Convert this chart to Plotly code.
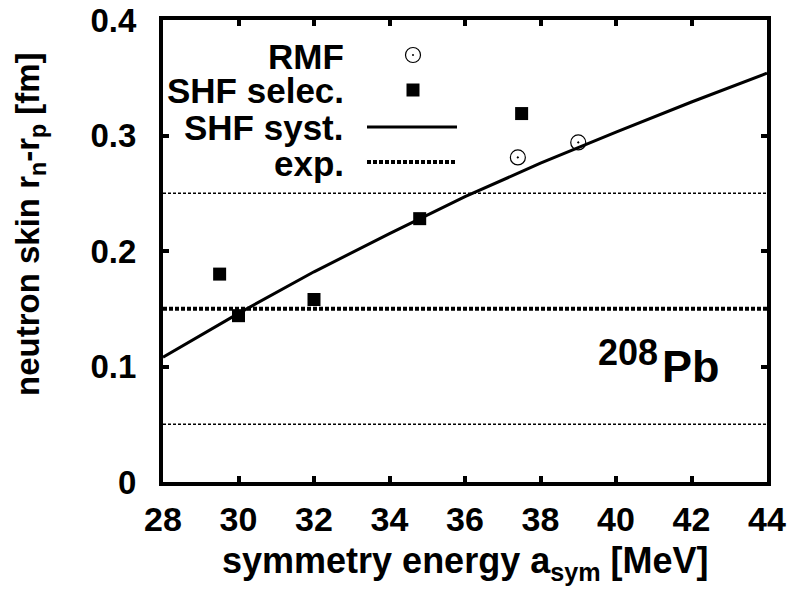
import plotly.graph_objects as go

# ---- data ----
rmf_x = [37.4, 39.0]
rmf_y = [0.281, 0.294]

shf_sel_x = [29.5, 30.0, 32.0, 34.8, 37.5]
shf_sel_y = [0.180, 0.144, 0.158, 0.228, 0.319]

shf_syst_x = [28, 30, 32, 34, 36, 38, 40, 42, 44]
shf_syst_y = [0.108, 0.146, 0.182, 0.215, 0.247, 0.276, 0.303, 0.329, 0.354]

exp_x = [28, 44]
exp_center = 0.15
exp_err = 0.10

x_ticks = [28, 30, 32, 34, 36, 38, 40, 42, 44]
y_ticks = [0, 0.1, 0.2, 0.3, 0.4]
y_tick_labels = ["0", "0.1", "0.2", "0.3", "0.4"]

legend_labels = ["RMF", "SHF selec.", "SHF syst.", "exp."]

FONT = "Liberation Sans, Arial, sans-serif"

fig = go.Figure()

# experimental band bounds (thin dashed)
for yv in (exp_center + exp_err, exp_center - exp_err):
    fig.add_trace(go.Scatter(x=exp_x, y=[yv, yv], mode="lines",
                             line=dict(color="black", width=1.4, dash="3px,2px"),
                             showlegend=False, hoverinfo="skip"))
# experimental central value (thick dotted)
fig.add_trace(go.Scatter(x=exp_x, y=[exp_center, exp_center], mode="lines",
                         line=dict(color="black", width=4, dash="4px,2px"),
                         showlegend=False))
# SHF systematics line
fig.add_trace(go.Scatter(x=shf_syst_x, y=shf_syst_y, mode="lines",
                         line=dict(color="black", width=3),
                         showlegend=False))
# SHF selected
fig.add_trace(go.Scatter(x=shf_sel_x, y=shf_sel_y, mode="markers",
                         marker=dict(symbol="square", size=13, color="black",
                                     line=dict(width=0)),
                         showlegend=False))
# RMF
fig.add_trace(go.Scatter(x=rmf_x, y=rmf_y, mode="markers",
                         marker=dict(symbol="circle-open-dot", size=15, color="black",
                                     line=dict(width=1.2, color="black")),
                         showlegend=False))

# ---- manual legend (text right aligned, samples to the right) ----
L, R, T, B = 163, 42, 20, 110
W, H = 809 - L - R, 592 - T - B
def px(xp):
    return (xp - L) / W
def py(yp):
    return (592 - B - yp) / H

leg_y = [55, 90, 127, 162]
text_right = 346
sample_x = 413
for lab, yy in zip(legend_labels, leg_y):
    fig.add_annotation(x=px(text_right), y=py(yy + 1), xref="paper", yref="paper",
                       text="<b>%s</b>" % lab, showarrow=False, xanchor="right",
                       yanchor="middle", font=dict(family=FONT, size=35, color="black"))

shapes = []
# RMF sample: open circle with dot
shapes.append(dict(type="circle", xref="paper", yref="paper", xsizemode="pixel",
                   ysizemode="pixel", xanchor=px(sample_x), yanchor=py(leg_y[0]),
                   x0=-7.5, x1=7.5, y0=-7.5, y1=7.5, line=dict(color="black", width=1.2)))
shapes.append(dict(type="circle", xref="paper", yref="paper", xsizemode="pixel",
                   ysizemode="pixel", xanchor=px(sample_x), yanchor=py(leg_y[0]),
                   x0=-1, x1=1, y0=-1, y1=1, fillcolor="black",
                   line=dict(color="black", width=0)))
# square sample
shapes.append(dict(type="rect", xref="paper", yref="paper", xsizemode="pixel",
                   ysizemode="pixel", xanchor=px(sample_x), yanchor=py(leg_y[1]),
                   x0=-6.5, x1=6.5, y0=-6.5, y1=6.5, fillcolor="black",
                   line=dict(width=0)))
# line samples
shapes.append(dict(type="line", xref="paper", yref="paper", x0=px(367), x1=px(457),
                   y0=py(leg_y[2]), y1=py(leg_y[2]), line=dict(color="black", width=3)))
shapes.append(dict(type="line", xref="paper", yref="paper", x0=px(367), x1=px(457),
                   y0=py(leg_y[3]), y1=py(leg_y[3]),
                   line=dict(color="black", width=4, dash="4px,2px")))

# 208Pb label
fig.add_annotation(x=px(660), y=py(352), xref="paper", yref="paper",
                   text="<b>208</b>", showarrow=False, xanchor="right",
                   yanchor="middle", font=dict(family=FONT, size=36, color="black"))
fig.add_annotation(x=px(660), y=py(367), xref="paper", yref="paper",
                   text="<b>Pb</b>", showarrow=False, xanchor="left",
                   yanchor="middle", font=dict(family=FONT, size=45, color="black"))

# axis titles as annotations
fig.add_annotation(x=px(465), y=py(563), xref="paper", yref="paper",
                   text="<b>symmetry energy a<sub>sym</sub> [MeV]</b>", showarrow=False,
                   xanchor="center", yanchor="middle",
                   font=dict(family=FONT, size=36, color="black"))
fig.add_annotation(x=px(30), y=py(224), xref="paper", yref="paper",
                   text="<b>neutron skin r<sub>n</sub>-r<sub>p</sub> [fm]</b>",
                   showarrow=False, textangle=-90, xanchor="center", yanchor="middle",
                   font=dict(family=FONT, size=33, color="black"))

fig.update_layout(
    width=809, height=592,
    margin=dict(l=L, r=R, t=T, b=B),
    paper_bgcolor="white", plot_bgcolor="white",
    showlegend=False,
    shapes=shapes,
    font=dict(family=FONT, color="black"),
)
fig.update_xaxes(range=[28, 44], tickvals=x_ticks, ticktext=["<b>%d</b>" % v for v in x_ticks],
                 showline=True, linewidth=4, linecolor="black", mirror="ticks",
                 ticks="inside", ticklen=6, tickwidth=4, tickcolor="black",
                 showgrid=False, zeroline=False, ticklabelstandoff=4, automargin=False,
                 tickfont=dict(family=FONT, size=34, color="black"))
fig.update_yaxes(range=[0, 0.4], tickvals=y_ticks,
                 ticktext=["<b>%s</b>" % t for t in y_tick_labels],
                 showline=True, linewidth=4, linecolor="black", mirror="ticks",
                 ticks="inside", ticklen=6, tickwidth=4, tickcolor="black",
                 showgrid=False, zeroline=False, ticklabelstandoff=16, automargin=False,
                 tickfont=dict(family=FONT, size=33, color="black"))

fig.write_html("out.html")
